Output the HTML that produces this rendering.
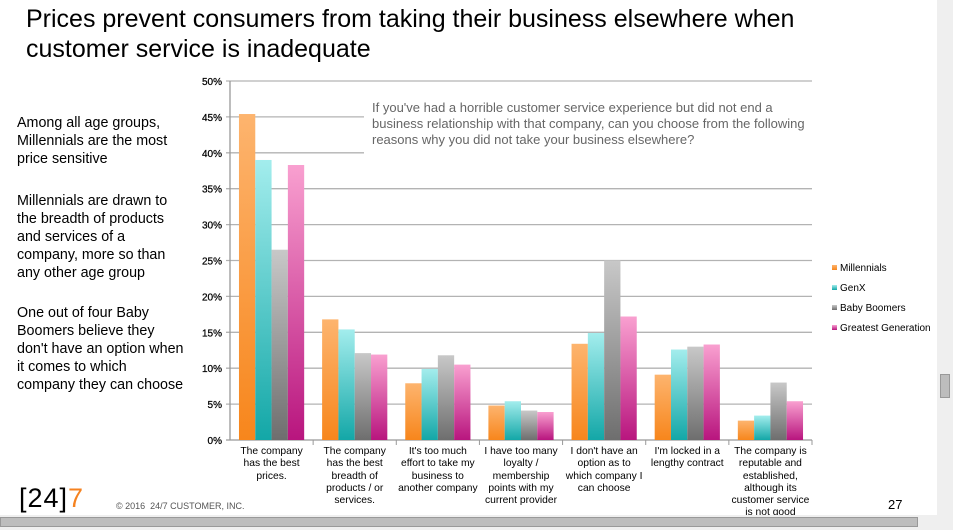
<!DOCTYPE html>
<html><head><meta charset="utf-8">
<style>
body{margin:0;width:953px;height:530px;overflow:hidden;background:#efefef;font-family:"Liberation Sans",sans-serif;position:relative}
#slide{position:absolute;left:0;top:0;width:937px;height:515px;background:#fff;overflow:hidden}
.t{position:absolute;color:#000}
.ins{white-space:nowrap;font-size:14.3px;line-height:18px}
</style></head><body>
<div id="slide"></div>
<div class="t" style="left:26px;top:4px;font-size:25px;line-height:30px;width:835px">Prices prevent consumers from taking their business elsewhere when customer service is inadequate</div>
<div class="t ins" style="left:17px;top:114px">Among all age groups,<br>Millennials are the most<br>price sensitive</div>
<div class="t ins" style="left:17px;top:192px">Millennials are drawn to<br>the breadth of products<br>and services of a<br>company, more so than<br>any other age group</div>
<div class="t ins" style="left:17px;top:304px">One out of four Baby<br>Boomers believe they<br>don't have an option when<br>it comes to which<br>company they can choose</div>
<div class="t" style="left:19px;top:483px;font-size:27px;line-height:30px;letter-spacing:1px">[24]<span style="color:#f58220">7</span></div>
<div class="t" style="left:116px;top:501px;font-size:9px;color:#555">© 2016 &nbsp;24/7 CUSTOMER, INC.</div>
<div class="t" style="left:888px;top:497px;font-size:13px">27</div>
<svg id="chart" width="953" height="515" style="position:absolute;left:0;top:0">
<defs>
<linearGradient id="g0" x1="0" y1="0" x2="0" y2="1"><stop offset="0" stop-color="#fdb46e"/><stop offset="1" stop-color="#f7861c"/></linearGradient>
<linearGradient id="g1" x1="0" y1="0" x2="0" y2="1"><stop offset="0" stop-color="#a3eded"/><stop offset="1" stop-color="#13a7a7"/></linearGradient>
<linearGradient id="g2" x1="0" y1="0" x2="0" y2="1"><stop offset="0" stop-color="#c8c8c8"/><stop offset="1" stop-color="#6e6e6e"/></linearGradient>
<linearGradient id="g3" x1="0" y1="0" x2="0" y2="1"><stop offset="0" stop-color="#f9a0d0"/><stop offset="1" stop-color="#b8157e"/></linearGradient>
</defs>
</svg>
<div style="position:absolute;left:0;top:517px;width:918px;height:10px;background:#bdbdbd;border:1px solid #999;box-sizing:border-box"></div>
<div style="position:absolute;left:940px;top:374px;width:10px;height:24px;background:#bdbdbd;border:1px solid #999;box-sizing:border-box"></div>
<div class="t" style="left:364px;top:98px;width:450px;background:#fff;color:#666;font-size:13px;line-height:16px;padding:2px 0 6px 8px">If you've had a horrible customer service experience but did not end a business relationship with that company, can you choose from the following reasons why you did not take your business elsewhere?</div>
<script>
const categories=["The company has the best prices.","The company has the best breadth of products / or services.","It's too much effort to take my business to another company","I have too many loyalty / membership points with my current provider","I don't have an option as to which company I can choose","I'm locked in a lengthy contract","The company is reputable and established, although its customer service is not good"];
const seriesNames=["Millennials","GenX","Baby Boomers","Greatest Generation"];
const millennials=[45.4,16.8,7.9,4.8,13.4,9.1,2.7];
const genx=[39.0,15.4,9.9,5.4,14.9,12.6,3.4];
const boomers=[26.5,12.1,11.8,4.1,25.0,13.0,8.0];
const greatest=[38.3,11.9,10.5,3.9,17.2,13.3,5.4];
const yTicks=[0,5,10,15,20,25,30,35,40,45,50];
const series=[millennials,genx,boomers,greatest];
const NS="http://www.w3.org/2000/svg";
const svg=document.getElementById('chart');
const x0=230,x1=812,y0=440,y1=81,yMax=50;
const y=v=>y0-(v/yMax)*(y0-y1);
const cw=(x1-x0)/categories.length;
function mk(t,a,p){const e=document.createElementNS(NS,t);for(const k in a)e.setAttribute(k,a[k]);(p||svg).appendChild(e);return e;}
yTicks.forEach(v=>{
 const l=mk('line',{x1:x0-4,x2:x1,y1:y(v),y2:y(v),stroke:v===0?'#999':'#b3b3b3','stroke-width':1.3});
 
 
 const t=mk('text',{x:x0-8,y:y(v)+4,'text-anchor':'end','font-size':10,'font-family':'Liberation Sans','stroke':'#000','stroke-width':0.25});
 t.textContent=v+'%';
 
 
});
const ax=mk('line',{x1:x0,x2:x0,y1:y1,y2:y0,stroke:'#999','stroke-width':1.3});


const bw=16.3;
categories.forEach((c,i)=>{
 const tk=mk('line',{x1:x0+cw*(i+1),x2:x0+cw*(i+1),y1:y0,y2:y0+5,stroke:'#999'});
 
 
 const gx=x0+cw*i+(cw-bw*4)/2;
 series.forEach((s,j)=>{
  const r=mk('rect',{x:gx+j*bw,y:y(s[i]),width:bw,height:y0-y(s[i]),fill:'url(#g'+j+')'});
  
  
 });
 const fo=mk('foreignObject',{x:x0+cw*i,y:y0+6,width:cw,height:70});
 const d=document.createElement('div');
 d.style.cssText='font-size:10.3px;line-height:12.3px;text-align:center;font-family:Liberation Sans,sans-serif;color:#000;padding:0 1px';
 d.textContent=c;
 
 
 fo.appendChild(d);
});
seriesNames.forEach((n,j)=>{
 const ly=271+j*20;
 const r=mk('rect',{x:832,y:ly-6,width:5,height:5,fill:'url(#g'+j+')'});
 
 
 const t=mk('text',{x:840,y:ly,'font-size':10,'font-family':'Liberation Sans'});
 t.textContent=n;
 
 
});
</script>
</body></html>
